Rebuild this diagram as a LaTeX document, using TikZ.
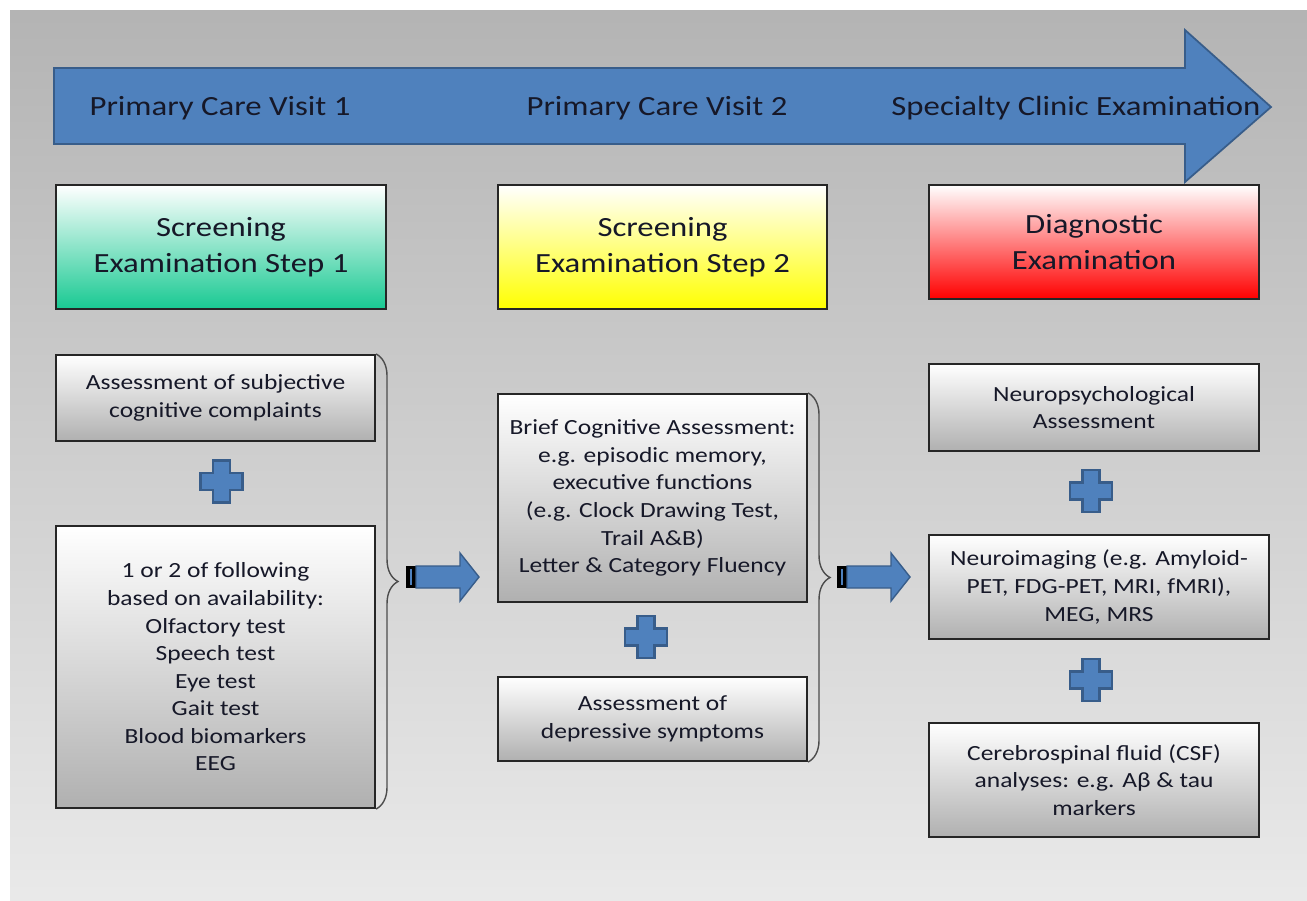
\documentclass[tikz,border=0pt]{standalone}
\usepackage{fontspec}
\setmainfont{Carlito}[FakeStretch=1.18]
\usetikzlibrary{decorations.pathreplacing}

\definecolor{arrowblue}{RGB}{79,129,189}
\definecolor{arrowedge}{RGB}{56,93,138}
\definecolor{stepgreen}{RGB}{24,201,146}
\definecolor{inktext}{RGB}{22,24,40}

\begin{document}
\begin{tikzpicture}[x=0.02cm, y=-0.02cm,%
      header/.style={%
        draw           = black!85,
        line width     = 1.2pt,
        align          = center,
        inner sep      = 0pt,
        text           = inktext,
        font           = \fontsize{15.8}{20.8}\selectfont,
        top color      = white,
      },
      block/.style={%
        draw           = black!85,
        line width     = 1.2pt,
        align          = center,
        inner sep      = 0pt,
        text           = inktext,
        font           = \fontsize{12.3}{15.7}\selectfont,
        top color      = white,
        bottom color   = gray!62,
      },
      stage/.style={%
        inner sep      = 0pt,
        text           = inktext,
        font           = \fontsize{15.8}{20.8}\selectfont,
      },
      plus/.style={%
        fill           = arrowblue,
        draw           = arrowedge,
        line width     = 1.2pt,
      },
      brace/.style={%
        decorate,
        decoration     = {brace, amplitude=0.44cm},
        draw           = black!70,
        line width     = 0.8pt,
      }
      ]

      \useasboundingbox (0,0) rectangle (1307,900);
      \fill[white] (0,0) rectangle (1307,900);
      \shade[top color=gray!59, bottom color=gray!17] (10,10) rectangle (1307,900);

      % timeline arrow
      \filldraw[fill=arrowblue, draw=arrowedge, line width=1pt]
        (54,68) -- (1185,68) -- (1185,30) -- (1271,107) -- (1185,182) -- (1185,144) -- (54,144) -- cycle;
      \node[stage] (Visit-1) at (220,108) {Primary Care Visit 1};
      \node[stage] (Visit-2) at (657,108) {Primary Care Visit 2};
      \node[stage] (Clinic) at (1076,108) {Specialty Clinic Examination};

      % step headers
      \node[header, bottom color=stepgreen, minimum width=6.6cm, minimum height=2.48cm] (Step-1) at (221,247) {Screening \\ Examination Step 1};
      \node[header, bottom color=yellow, minimum width=6.58cm, minimum height=2.48cm] (Step-2) at (662.5,247) {Screening \\ Examination Step 2};
      \node[header, bottom color=red, minimum width=6.6cm, minimum height=2.28cm] (Diag) at (1094,242) {Diagnostic \\ Examination};

      % step 1
      \node[block, minimum width=6.38cm, minimum height=1.72cm] (Subj) at (215.5,398) {Assessment of subjective \\ cognitive complaints};
      \node[block, minimum width=6.38cm, minimum height=5.64cm] (Tests) at (215.5,667) {1 or 2 of following \\ based on availability: \\ Olfactory test \\ Speech test \\ Eye test \\ Gait test \\ Blood biomarkers \\ EEG};

      % step 2
      \node[block, minimum width=6.18cm, minimum height=4.16cm] (Brief) at (652.5,498) {Brief Cognitive Assessment: \\ e.g. episodic memory, \\ executive functions \\ (e.g. Clock Drawing Test, \\ Trail A\&B) \\ Letter \& Category Fluency};
      \node[block, minimum width=6.18cm, minimum height=1.68cm] (Depr) at (652.5,719) {Assessment of \\ depressive symptoms};

      % diagnostic
      \node[block, minimum width=6.6cm, minimum height=1.74cm] (Neuropsy) at (1094,407.5) {Neuropsychological \\ Assessment};
      \node[block, minimum width=6.8cm, minimum height=2.08cm] (Imaging) at (1099,587) {Neuroimaging (e.g. Amyloid- \\ PET, FDG-PET, MRI, fMRI), \\ MEG, MRS};
      \node[block, minimum width=6.6cm, minimum height=2.28cm] (CSF) at (1094,780) {Cerebrospinal fluid (CSF) \\ analyses: e.g. Aβ \& tau \\ markers};

      % plus signs
      \foreach \px/\py in {221.5/481.5, 646/637, 1091/491, 1091/680} {
        \filldraw[plus, shift={(\px,\py)}]
          (-8.5,-21) -- (8.5,-21) -- (8.5,-8.5) -- (21,-8.5) -- (21,8.5) -- (8.5,8.5)
          -- (8.5,21) -- (-8.5,21) -- (-8.5,8.5) -- (-21,8.5) -- (-21,-8.5) -- (-8.5,-8.5) -- cycle;
      }

      % braces
      \draw[brace] (Subj.north east) -- (Tests.south east);
      \draw[brace] (Brief.north east) -- (Depr.south east);

      % striped arrows
      \foreach \ax/\ay in {406/577, 837/577} {
        \begin{scope}[shift={(\ax,\ay)}]
          \fill[black] (0,-11) rectangle (10,11);
          \fill[arrowblue] (4,-8) rectangle (6,8);
          \filldraw[fill=arrowblue, draw=arrowedge, line width=0.8pt]
            (10,-11) -- (54,-11) -- (54,-24) -- (73,0) -- (54,24) -- (54,11) -- (10,11) -- cycle;
        \end{scope}
      }

    \end{tikzpicture}
\end{document}
